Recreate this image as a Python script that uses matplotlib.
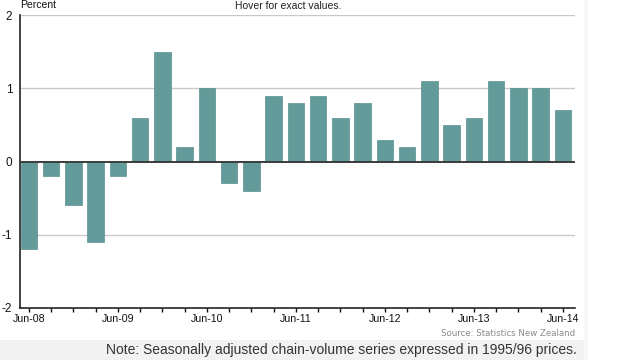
import numpy as np
import matplotlib.pyplot as plt
from matplotlib.patches import Rectangle

# quarterly change, Jun-08 .. Jun-14
quarters = ["Jun-08", "Sep-08", "Dec-08", "Mar-09", "Jun-09", "Sep-09", "Dec-09",
            "Mar-10", "Jun-10", "Sep-10", "Dec-10", "Mar-11", "Jun-11", "Sep-11",
            "Dec-11", "Mar-12", "Jun-12", "Sep-12", "Dec-12", "Mar-13", "Jun-13",
            "Sep-13", "Dec-13", "Mar-14", "Jun-14"]
values = [-1.2, -0.2, -0.6, -1.1, -0.2, 0.6, 1.5, 0.2, 1.0, -0.3, -0.4, 0.9, 0.8,
          0.9, 0.6, 0.8, 0.3, 0.2, 1.1, 0.5, 0.6, 1.1, 1.0, 1.0, 0.7]
y_ticks = [-2, -1, 0, 1, 2]

plt.rcParams["font.family"] = ["Liberation Sans", "DejaVu Sans"]
plt.rcParams["axes.unicode_minus"] = False

W, H = 618, 360
fig = plt.figure(figsize=(W / 100, H / 100), dpi=100)
fig.patch.set_facecolor("white")

# light band behind the note and faint right strip
fig.patches.append(Rectangle((0, 0), 588 / W, 20 / H, transform=fig.transFigure,
                             facecolor="#f2f2f2", edgecolor="none", zorder=0))
fig.patches.append(Rectangle((584 / W, 0), 4 / W, 1, transform=fig.transFigure,
                             facecolor="#f8f8f8", edgecolor="none", zorder=0))

ax = fig.add_axes([20 / W, (H - 308) / H, (575 - 20) / W, (308 - 15) / H])
ax.set_facecolor("none")

x = np.arange(len(values))
ax.bar(x, values, width=0.74, color="#639b9b", edgecolor="#5a9090", linewidth=0.5, zorder=3)

ax.set_xlim(-0.4, len(values) - 1 + 0.54)
ax.set_ylim(-2, 2)

for v in [-1, 1, 2]:
    ax.axhline(v, color="#c8c8c8", lw=1.0, zorder=1)
ax.axhline(0, color="#3c3c3c", lw=1.4, zorder=4)

for s in ["top", "right"]:
    ax.spines[s].set_visible(False)
ax.spines["left"].set_color("#222222")
ax.spines["bottom"].set_color("#222222")
ax.spines["left"].set_linewidth(1.2)
ax.spines["bottom"].set_linewidth(1.2)

ax.set_yticks(y_ticks)
ax.set_yticklabels([str(v) for v in y_ticks])
ax.tick_params(axis="y", length=0, pad=5.5, labelsize=8.5, colors="#111111")

ax.set_xticks(x)
ax.set_xticklabels([q if i % 4 == 0 else "" for i, q in enumerate(quarters)])
ax.tick_params(axis="x", length=3, width=1, direction="out", pad=1,
               labelsize=7.7, colors="#111111")

fig.text(20 / W, 1 - 5 / H, "Percent", fontsize=7.5, ha="left", va="center", color="#111111")
fig.text(288 / W, 1 - 1 / H, "Hover for exact values.", fontsize=7.5, ha="center",
         va="top", color="#222222")
fig.text(575 / W, 1 - 333 / H, "Source: Statistics New Zealand", fontsize=6.2,
         ha="right", va="center", color="#8a8a8a", family="DejaVu Sans")
fig.text(577 / W, 1 - 350 / H,
         "Note: Seasonally adjusted chain-volume series expressed in 1995/96 prices.",
         fontsize=10, ha="right", va="center", color="#333333")

fig.savefig("out.png", dpi=100)
